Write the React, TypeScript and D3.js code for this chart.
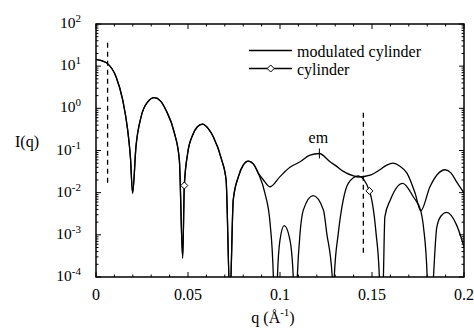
import React from "react";
import * as d3 from "d3";

const W = 474;
const H = 330;
const PL = 96, PR = 464, PT = 24, PB = 277;

// shared part of both curves (q in 1/Å, intensity)
const sharedQ = [0, 0.003, 0.0063, 0.0109, 0.0145, 0.0172, 0.0187, 0.0199, 0.0217, 0.0245, 0.028, 0.0317, 0.035, 0.038, 0.0426, 0.0453, 0.0471, 0.048, 0.0498, 0.0525, 0.055, 0.0578, 0.061, 0.0638, 0.0683, 0.0707, 0.0728, 0.0746, 0.0774, 0.08, 0.0828, 0.0855, 0.0882];
const sharedI = [14.5, 13.5, 11.5, 5.6, 1.58, 0.31, 0.07, 0.0098, 0.12, 0.63, 1.4, 1.79, 1.5, 0.91, 0.26, 0.06, 0.00028, 0.0148, 0.085, 0.23, 0.36, 0.42, 0.33, 0.21, 0.06, 0.02, 0.00003, 0.0068, 0.024, 0.045, 0.056, 0.048, 0.029];

// modulated cylinder beyond the split
const modQ = [0.091, 0.0946, 0.1, 0.1054, 0.1109, 0.1163, 0.1214, 0.1272, 0.1308, 0.1344, 0.14, 0.1426, 0.149, 0.1543, 0.158, 0.1616, 0.165, 0.169, 0.1734, 0.1765, 0.1815, 0.1855, 0.1897, 0.193, 0.196, 0.2];
const modI = [0.02, 0.0138, 0.024, 0.04, 0.054, 0.078, 0.085, 0.054, 0.042, 0.032, 0.025, 0.0235, 0.026, 0.035, 0.045, 0.05, 0.043, 0.029, 0.0098, 0.0037, 0.0138, 0.027, 0.035, 0.029, 0.018, 0.0098];

// cylinder beyond the split
const cylQ = [0.0918, 0.0946, 0.0964, 0.0975, 0.0986, 0.1, 0.1023, 0.1054, 0.1072, 0.108, 0.1094, 0.1109, 0.1127, 0.118, 0.1236, 0.1254, 0.1284, 0.129, 0.1295, 0.1317, 0.1344, 0.1371, 0.1426, 0.1486, 0.1522, 0.154, 0.155, 0.1562, 0.157, 0.16, 0.1667, 0.1725, 0.1765, 0.178, 0.18, 0.181, 0.1834, 0.1852, 0.1875, 0.1906, 0.196, 0.2];
const cylI = [0.0098, 0.0019, 0.0001, 0.000001, 0.0001, 0.00076, 0.00166, 0.00076, 0.0001, 0.000001, 0.0001, 0.0011, 0.0039, 0.0085, 0.0039, 0.0011, 0.0001, 0.000001, 0.0001, 0.0011, 0.0068, 0.0166, 0.025, 0.011, 0.0011, 0.0001, 0.000001, 0.0001, 0.0027, 0.0068, 0.0167, 0.0079, 0.0037, 0.0015, 0.0001, 0.000001, 0.0001, 0.0015, 0.0028, 0.0034, 0.0017, 0.00052];

const markerQ = [0.048, 0.1486];
const markerI = [0.0148, 0.011];

const dashQ = [0.0063, 0.1453];
const dashTopI = [36, 0.79];
const dashBottomI = [0.016, 0.00035];

const emQ = 0.1214;
const emI = 0.085;

const xTickValues = [0, 0.05, 0.1, 0.15, 0.2];
const xTickLabels = ["0", "0.05", "0.1", "0.15", "0.2"];
const yExponents = [2, 1, 0, -1, -2, -3, -4];
const legendLabels = ["modulated cylinder", "cylinder"];

const FONT = "Liberation Serif, Times New Roman, Times, serif";
const tx: React.CSSProperties = { fontFamily: FONT };

function diamond(cx: number, cy: number, r = 3.5) {
  return `M${cx},${cy - r}L${cx + r},${cy}L${cx},${cy + r}L${cx - r},${cy}Z`;
}

export default function App() {
  const x = d3.scaleLinear().domain([0, 0.2]).range([PL, PR]);
  const y = d3.scaleLog().domain([1e-4, 1e2]).range([PB, PT]);

  const line = d3
    .line<[number, number]>()
    .x((d) => x(d[0]))
    .y((d) => y(d[1]))
    .curve(d3.curveMonotoneX);

  const shared: [number, number][] = sharedQ.map((q, i) => [q, sharedI[i]]);
  const mod: [number, number][] = shared.concat(modQ.map((q, i) => [q, modI[i]] as [number, number]));
  const cyl: [number, number][] = shared.concat(cylQ.map((q, i) => [q, cylI[i]] as [number, number]));

  const xMinor = d3.range(0, 0.2001, 0.01);
  const yMinor: number[] = [];
  for (let e = -4; e < 2; e++) for (let k = 2; k <= 9; k++) yMinor.push(k * Math.pow(10, e));

  return (
    <svg width={W} height={H} style={{ position: "absolute", left: 0, top: 0, background: "#fff" }}>
      <defs>
        <clipPath id="plot">
          <rect x={PL} y={PT} width={PR - PL} height={PB - PT} />
        </clipPath>
      </defs>
      <rect x={0} y={0} width={W} height={H} fill="#fff" />

      {/* ticks */}
      <g stroke="#000" strokeWidth={1}>
        {xMinor.map((q, i) => {
          const major = i % 5 === 0;
          const len = major ? 5 : 2.5;
          return (
            <g key={"xt" + i}>
              <line x1={x(q)} x2={x(q)} y1={PB} y2={PB - len} />
              <line x1={x(q)} x2={x(q)} y1={PT} y2={PT + len} />
            </g>
          );
        })}
        {yExponents.map((e) => (
          <g key={"ym" + e}>
            <line x1={PL} x2={PL + 5} y1={y(Math.pow(10, e))} y2={y(Math.pow(10, e))} />
            <line x1={PR} x2={PR - 5} y1={y(Math.pow(10, e))} y2={y(Math.pow(10, e))} />
          </g>
        ))}
        {yMinor.map((v, i) => (
          <g key={"yn" + i}>
            <line x1={PL} x2={PL + 2.5} y1={y(v)} y2={y(v)} />
            <line x1={PR} x2={PR - 2.5} y1={y(v)} y2={y(v)} />
          </g>
        ))}
      </g>

      {/* frame */}
      <rect x={PL} y={PT} width={PR - PL} height={PB - PT} fill="none" stroke="#000" strokeWidth={1.5} />

      {/* dashed guides */}
      {dashQ.map((q, i) => (
        <line key={"d" + i} x1={x(q)} x2={x(q)} y1={y(dashTopI[i])} y2={y(dashBottomI[i])} stroke="#000" strokeWidth={1.3} strokeDasharray="5,4" />
      ))}

      {/* curves */}
      <g clipPath="url(#plot)" fill="none" stroke="#000" strokeWidth={1.3}>
        <path d={line(cyl) || ""} />
        <path d={line(mod) || ""} />
      </g>

      {markerQ.map((q, i) => (
        <path key={"m" + i} d={diamond(x(q), y(markerI[i]))} fill="#fff" stroke="#000" strokeWidth={1} />
      ))}

      {/* em annotation */}
      <line x1={x(emQ)} x2={x(emQ)} y1={y(emI) - 5} y2={y(emI) + 5} stroke="#000" strokeWidth={1} />
      <text x={x(emQ) - 1} y={y(emI) - 10} textAnchor="middle" fontSize={16} style={tx}>em</text>

      {/* legend */}
      <g>
        <line x1={249} x2={292} y1={50.5} y2={50.5} stroke="#000" strokeWidth={1.3} />
        <text x={297} y={56.5} fontSize={16} style={tx}>{legendLabels[0]}</text>
        <line x1={249} x2={292} y1={68.5} y2={68.5} stroke="#000" strokeWidth={1.3} />
        <path d={diamond(270.7, 68.5)} fill="#fff" stroke="#000" strokeWidth={1} />
        <text x={297} y={74.5} fontSize={16} style={tx}>{legendLabels[1]}</text>
      </g>

      {/* x tick labels */}
      {xTickValues.map((q, i) => (
        <text key={"xl" + i} x={x(q)} y={300} textAnchor="middle" fontSize={16} style={tx}>{xTickLabels[i]}</text>
      ))}

      {/* y tick labels */}
      {yExponents.map((e) => (
        <text key={"yl" + e} x={81} y={y(Math.pow(10, e)) + 4} textAnchor="end" fontSize={15.5} style={tx}>
          10<tspan dy={-6} fontSize={11}>{String(e)}</tspan>
        </text>
      ))}

      {/* axis titles */}
      <text x={15} y={147} fontSize={16} style={tx}>I(q)</text>
      <text x={273} y={323} textAnchor="middle" fontSize={16} style={tx}>
        q (Å<tspan dy={-7} fontSize={11}>-1</tspan><tspan dy={7}>)</tspan>
      </text>
    </svg>
  );
}
